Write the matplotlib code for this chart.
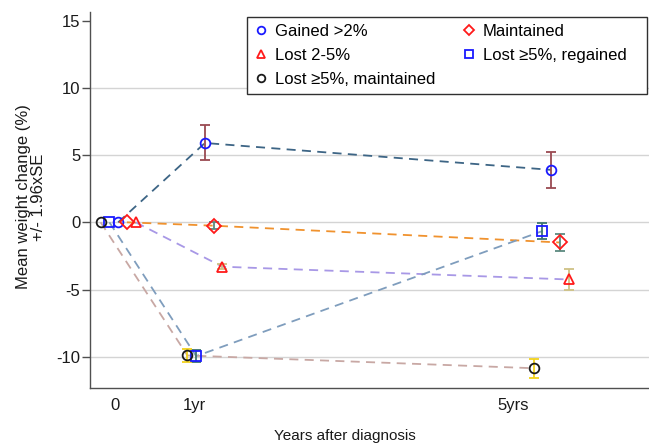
import matplotlib
matplotlib.use("Agg")
import matplotlib.pyplot as plt
from matplotlib.lines import Line2D

plt.rcParams['font.family'] = ['Liberation Sans', 'DejaVu Sans']
plt.rcParams['axes.unicode_minus'] = False

# ---- data ----
groups = ["Gained >2%", "Maintained", "Lost 2-5%", "Lost \u22655%, regained", "Lost \u22655%, maintained"]
times = [0.04, 1.13, 5.48]            # mean follow-up time (years)
tick_pos = [0, 1, 5]
tick_labels = ["0", "1yr", "5yrs"]
y_ticks = [-10, -5, 0, 5, 10, 15]

gained = [0.0, 5.9, 3.9]
maintained = [0.0, -0.25, -1.5]
lost_2_5 = [0.0, -3.3, -4.25]
lost5_regained = [0.0, -9.95, -0.65]
lost5_maintained = [0.0, -9.9, -10.85]

gained_ci = [0.0, 1.3, 1.35]
maintained_ci = [0.0, 0.25, 0.65]
lost_2_5_ci = [0.0, 0.2, 0.75]
lost5_regained_ci = [0.0, 0.45, 0.6]
lost5_maintained_ci = [0.0, 0.45, 0.7]

means = [gained, maintained, lost_2_5, lost5_regained, lost5_maintained]
cis = [gained_ci, maintained_ci, lost_2_5_ci, lost5_regained_ci, lost5_maintained_ci]

# ---- styles ----
offsets = [0.0, 0.11, 0.22, -0.11, -0.22]
markers = ['o', 'D', '^', 's', 'o']
mcolors = ['#1a1aff', '#ff1a1a', '#ff1a1a', '#1a1aff', '#1a1a1a']
msizes = [7, 7, 7, 7, 7]
lcolors = ['#3d6585', '#f0922e', '#a898e6', '#7f9dbd', '#c8a8a4']
ecolors = ['#9a4a52', '#5c8a80', '#cfc285', '#3f7570', '#f2d21c']

fig = plt.figure(figsize=(6.49, 4.43), dpi=100)
ax = fig.add_axes([90 / 649, 55 / 443, 1 - 90 / 649, (388 - 12) / 443])

for m, ci, off, mk, mc, ms, lc, ec in zip(means, cis, offsets, markers, mcolors, msizes, lcolors, ecolors):
    xs = [t + off for t in times]
    ax.plot(xs, m, linestyle=(0, (5, 3.5)), color=lc, lw=1.3, zorder=2)
    ax.errorbar(xs[1:], m[1:], yerr=ci[1:], fmt='none', ecolor=ec, elinewidth=1.3,
                capsize=3.3, capthick=1.3, zorder=3)
    ax.plot(xs, m, linestyle='none', marker=mk, markersize=ms, markerfacecolor='none',
            markeredgecolor=mc, markeredgewidth=1.3, zorder=4)

ax.set_xlim(-0.314, 6.71)
ax.set_ylim(-12.32, 15.64)
ax.set_yticks(y_ticks)
ax.set_xticks(tick_pos)
ax.set_xticklabels(tick_labels)
for y in [-10, -5, 0, 5, 10]:
    ax.axhline(y, color='#d4d4d4', lw=1.0, zorder=1)

for s in ['top', 'right']:
    ax.spines[s].set_visible(False)
for s in ['left', 'bottom']:
    ax.spines[s].set_color('#505050')
    ax.spines[s].set_linewidth(1.0)

ax.tick_params(axis='y', length=5.5, width=1, color='#505050', pad=1.5, labelsize=12, labelcolor='#1a1a1a')
ax.tick_params(axis='x', length=0, pad=7, labelsize=12, labelcolor='#1a1a1a')

ax.set_ylabel("Mean weight change (%)\n+/- 1.96xSE", fontsize=12, linespacing=1.05, color='#1a1a1a')
ax.yaxis.set_label_coords(-0.078, 0.508)

fig.text(345 / 649, 3 / 443, "Years after diagnosis", ha='center', va='baseline', fontsize=11, color='#1a1a1a')

handles = []
for g, mk, mc in zip(groups, markers, mcolors):
    handles.append(Line2D([], [], linestyle='none', marker=mk, markersize=5.5 if mk != 'D' else 5,
                          markerfacecolor='none', markeredgecolor=mc, markeredgewidth=1.3, label=g))
order = [0, 2, 4, 1, 3]
leg_labels = [groups[i] for i in order]
leg_labels[4] = leg_labels[4] + "   "   # extra right padding inside the frame
leg = ax.legend([handles[i] for i in order], leg_labels, ncol=2,
                loc='upper left', bbox_to_anchor=(247 / 649, 1 - 17 / 443), bbox_transform=fig.transFigure,
                borderaxespad=0, fancybox=False, framealpha=1, edgecolor='#303030',
                fontsize=12, handlelength=0.8, handletextpad=0.45, columnspacing=1.6,
                labelspacing=0.55, borderpad=0.42)
leg.get_frame().set_linewidth(1.0)

fig.savefig("out.png", dpi=100)
